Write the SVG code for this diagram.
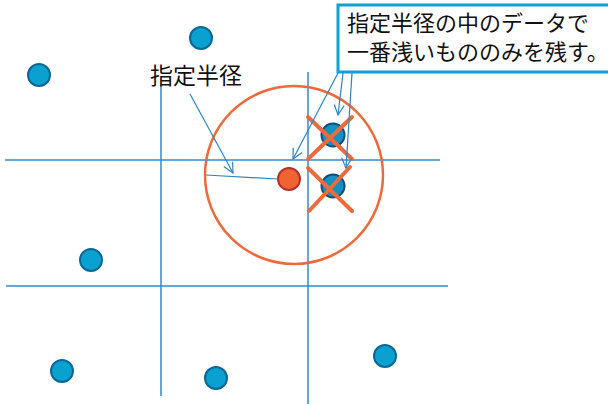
<svg xmlns="http://www.w3.org/2000/svg" width="608" height="405" viewBox="0 0 608 405">
<style>
.grid{stroke:#2f8bcd;stroke-width:1.5;fill:none}
.ln{stroke:#2a85c8;stroke-width:1.2;fill:none}
.dot{fill:#0aa0d0;stroke:#0b6796;stroke-width:2}
.sel{fill:#1590c4;stroke:#0b4f7c;stroke-width:2}
.x{stroke:#ef6a3a;stroke-width:4;stroke-linecap:round}
.t{font-family:"Noto Sans CJK JP","Noto Sans CJK SC",sans-serif;font-size:22px;fill:#111}
</style>
<defs>
<marker id="ah" viewBox="0 0 12 12" refX="11" refY="6" markerWidth="12" markerHeight="12" markerUnits="userSpaceOnUse" orient="auto">
<path d="M1,1 L11,6 L1,11" fill="none" stroke="#2a85c8" stroke-width="1.2"/>
</marker>
</defs>
<g id="grid">
<line class="grid" x1="5" y1="160" x2="440" y2="160"/>
<line class="grid" x1="6" y1="286" x2="448" y2="286"/>
<line class="grid" x1="161" y1="85" x2="161" y2="396"/>
<line class="grid" x1="308" y1="72" x2="308" y2="404"/>
</g>
<g id="radius-circle">
<circle cx="294" cy="175" r="89" fill="none" stroke="#ef6a3a" stroke-width="2.5"/>
</g>
<g id="points">
<circle class="dot" cx="201" cy="38" r="11"/>
<circle class="dot" cx="39" cy="75" r="11"/>
<circle class="dot" cx="91" cy="260" r="11"/>
<circle class="dot" cx="62" cy="371" r="11"/>
<circle class="dot" cx="216" cy="378" r="11"/>
<circle class="dot" cx="385" cy="356" r="11"/>
</g>
<g id="selected-points">
<circle class="sel" cx="333" cy="135" r="11.5"/>
<circle class="sel" cx="333" cy="186" r="11.5"/>
</g>
<g id="center">
<circle cx="289" cy="179" r="11" fill="#ef6430" stroke="#b5302a" stroke-width="2"/>
</g>
<g id="crosses">
<line class="x" x1="308" y1="117" x2="352" y2="159"/>
<line class="x" x1="352" y1="117" x2="308" y2="159"/>
<line class="x" x1="308" y1="168" x2="352" y2="211"/>
<line class="x" x1="350" y1="167" x2="309" y2="211"/>
</g>
<g id="connectors">
<line class="ln" x1="206" y1="175" x2="278" y2="179"/>
<line class="ln" x1="190" y1="94" x2="233" y2="173" marker-end="url(#ah)"/>
<line class="ln" x1="338" y1="73" x2="293" y2="159" marker-end="url(#ah)"/>
<line class="ln" x1="343" y1="73" x2="338" y2="115" marker-end="url(#ah)"/>
<line class="ln" x1="352" y1="73" x2="346" y2="168" marker-end="url(#ah)"/>
</g>
<g id="label-radius">
<text class="t" x="150" y="84" style="font-size:23px">指定半径</text>
</g>
<g id="callout">
<rect x="338" y="5" width="280" height="67" fill="#fff" stroke="#12a0d4" stroke-width="3"/>
<text class="t" x="347" y="31">指定半径の中のデータで</text>
<text class="t" x="347" y="60">一番浅いもののみを残す。</text>
</g>
</svg>
